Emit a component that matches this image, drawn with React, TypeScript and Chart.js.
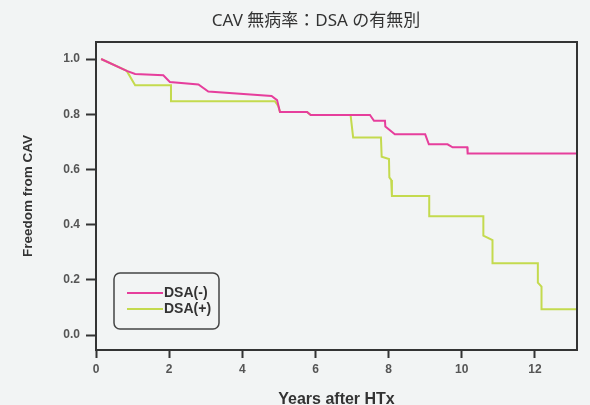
import React, { useEffect, useRef } from 'react';
import { Chart, registerables } from 'chart.js';

Chart.register(...registerables);

const TITLE = 'CAV 無病率：DSA の有無別';
const X_TITLE = 'Years after HTx';
const Y_TITLE = 'Freedom from CAV';
const SERIES_LABELS = ['DSA(-)', 'DSA(+)'];
const X_TICKS = [0, 2, 4, 6, 8, 10, 12];
const Y_TICKS = [0, 0.2, 0.4, 0.6, 0.8, 1.0];

// DSA(-)
const NEG_YEARS = [0.14, 0.84, 1.07, 1.84, 2.02, 2.8, 3.07, 4.8, 4.95, 5.03, 5.77, 5.87, 7.49, 7.6, 7.9, 7.91, 8.17, 9.0, 9.1, 9.61, 9.75, 10.15, 10.16, 13.15];
const NEG_FREEDOM = [1.0, 0.957, 0.946, 0.941, 0.917, 0.908, 0.882, 0.866, 0.851, 0.808, 0.808, 0.797, 0.797, 0.776, 0.776, 0.755, 0.727, 0.727, 0.691, 0.691, 0.68, 0.68, 0.658, 0.658];

// DSA(+)
const POS_YEARS = [0.14, 0.84, 1.07, 2.05, 2.05, 4.89, 4.98, 5.03, 5.77, 5.87, 6.96, 7.03, 7.79, 7.81, 8.01, 8.02, 8.07, 8.09, 9.11, 9.11, 10.59, 10.59, 10.84, 10.84, 12.08, 12.08, 12.18, 12.18, 13.15];
const POS_FREEDOM = [1.0, 0.957, 0.905, 0.905, 0.847, 0.847, 0.83, 0.808, 0.808, 0.797, 0.797, 0.716, 0.716, 0.646, 0.638, 0.571, 0.562, 0.504, 0.504, 0.43, 0.43, 0.36, 0.344, 0.26, 0.26, 0.19, 0.175, 0.093, 0.093];

const PINK = '#e63e9c';
const GREEN = '#c4da4e';
const BG = '#f2f4f4';
const DARK = '#333333';
const TICK_TEXT = '#555555';
const LATIN = '"Liberation Sans", Arial, sans-serif';

const toPoints = (xs: number[], ys: number[]) => xs.map((x, i) => ({ x, y: ys[i] }));

const framePlugin = {
  id: 'frameBox',
  afterDraw(chart: any) {
    const { ctx, chartArea } = chart;
    ctx.save();
    ctx.strokeStyle = DARK;
    ctx.lineWidth = 2;
    ctx.strokeRect(chartArea.left, chartArea.top, chartArea.right - chartArea.left, chartArea.bottom - chartArea.top);
    ctx.restore();
  },
};

const boxLegendPlugin = {
  id: 'boxLegend',
  afterDraw(chart: any) {
    const { ctx, chartArea } = chart;
    const x = chartArea.left + 18;
    const y = chartArea.bottom - 77;
    const w = 105;
    const h = 56;
    ctx.save();
    ctx.beginPath();
    ctx.roundRect(x, y, w, h, 6);
    ctx.lineWidth = 1.5;
    ctx.strokeStyle = '#444444';
    ctx.stroke();
    chart.data.datasets.forEach((ds: any, i: number) => {
      const ly = y + 20 + i * 16;
      ctx.beginPath();
      ctx.moveTo(x + 13, ly);
      ctx.lineTo(x + 49, ly);
      ctx.strokeStyle = ds.borderColor;
      ctx.lineWidth = 2;
      ctx.stroke();
      ctx.fillStyle = DARK;
      ctx.font = `bold 14px ${LATIN}`;
      ctx.textBaseline = 'middle';
      ctx.textAlign = 'left';
      ctx.fillText(ds.label, x + 50, ly + 0.5);
    });
    ctx.restore();
  },
};

export default function App() {
  const canvasRef = useRef<HTMLCanvasElement | null>(null);

  useEffect(() => {
    if (!canvasRef.current) return;
    const chart = new Chart(canvasRef.current, {
      type: 'line',
      data: {
        datasets: [
          {
            label: SERIES_LABELS[0],
            data: toPoints(NEG_YEARS, NEG_FREEDOM),
            borderColor: PINK,
            backgroundColor: PINK,
            borderWidth: 2,
            pointRadius: 0,
            tension: 0,
            fill: false,
          },
          {
            label: SERIES_LABELS[1],
            data: toPoints(POS_YEARS, POS_FREEDOM),
            borderColor: GREEN,
            backgroundColor: GREEN,
            borderWidth: 2,
            pointRadius: 0,
            tension: 0,
            fill: false,
          },
        ],
      },
      options: {
        responsive: false,
        animation: false,
        layout: { padding: { left: 55, right: 13, top: 0, bottom: 0 } },
        plugins: {
          legend: { display: false },
          tooltip: { enabled: false },
          title: {
            display: true,
            text: TITLE,
            color: DARK,
            font: { family: '"Noto Sans", "Noto Sans CJK JP", sans-serif', size: 17, weight: 'normal' as any },
            padding: { top: 11.3, bottom: 10.3 },
          },
        },
        scales: {
          x: {
            type: 'linear',
            min: 0,
            max: 13.15,
            afterFit: (s: any) => { s.height = 70; },
            afterBuildTicks: (s: any) => { s.ticks = X_TICKS.map((v) => ({ value: v })); },
            ticks: {
              color: TICK_TEXT,
              font: { family: LATIN, size: 12, weight: 'bold' as any },
              padding: 4,
              maxRotation: 0,
              autoSkip: false,
              callback: (v: any) => String(v),
            },
            grid: { drawOnChartArea: false, drawTicks: true, tickLength: 8, tickColor: DARK, tickWidth: 2 },
            border: { display: true, color: DARK, width: 2 },
            title: {
              display: true,
              text: X_TITLE,
              color: DARK,
              font: { family: LATIN, size: 16, weight: 'bold' as any },
              padding: { top: 0, bottom: 11 },
            },
          },
          y: {
            type: 'linear',
            min: -0.0543,
            max: 1.0616,
            afterFit: (s: any) => { s.width = 41; },
            afterBuildTicks: (s: any) => { s.ticks = Y_TICKS.map((v) => ({ value: v })); },
            ticks: {
              color: TICK_TEXT,
              font: { family: LATIN, size: 12, weight: 'bold' as any },
              padding: 6,
              autoSkip: false,
              callback: (v: any) => Number(v).toFixed(1),
            },
            grid: { drawOnChartArea: false, drawTicks: true, tickLength: 10, tickColor: DARK, tickWidth: 2 },
            border: { display: true, color: DARK, width: 2 },
            title: {
              display: true,
              text: Y_TITLE,
              color: DARK,
              font: { family: LATIN, size: 13.5, weight: 'bold' as any },
              padding: { top: -35, bottom: 0 },
            },
          },
        },
      },
      plugins: [framePlugin, boxLegendPlugin],
    });
    return () => chart.destroy();
  }, []);

  return (
    <div style={{ position: 'fixed', left: 0, top: 0, width: 590, height: 405, overflow: 'hidden', background: BG }}>
      <canvas ref={canvasRef} width={590} height={420} style={{ display: 'block' }} />
    </div>
  );
}
